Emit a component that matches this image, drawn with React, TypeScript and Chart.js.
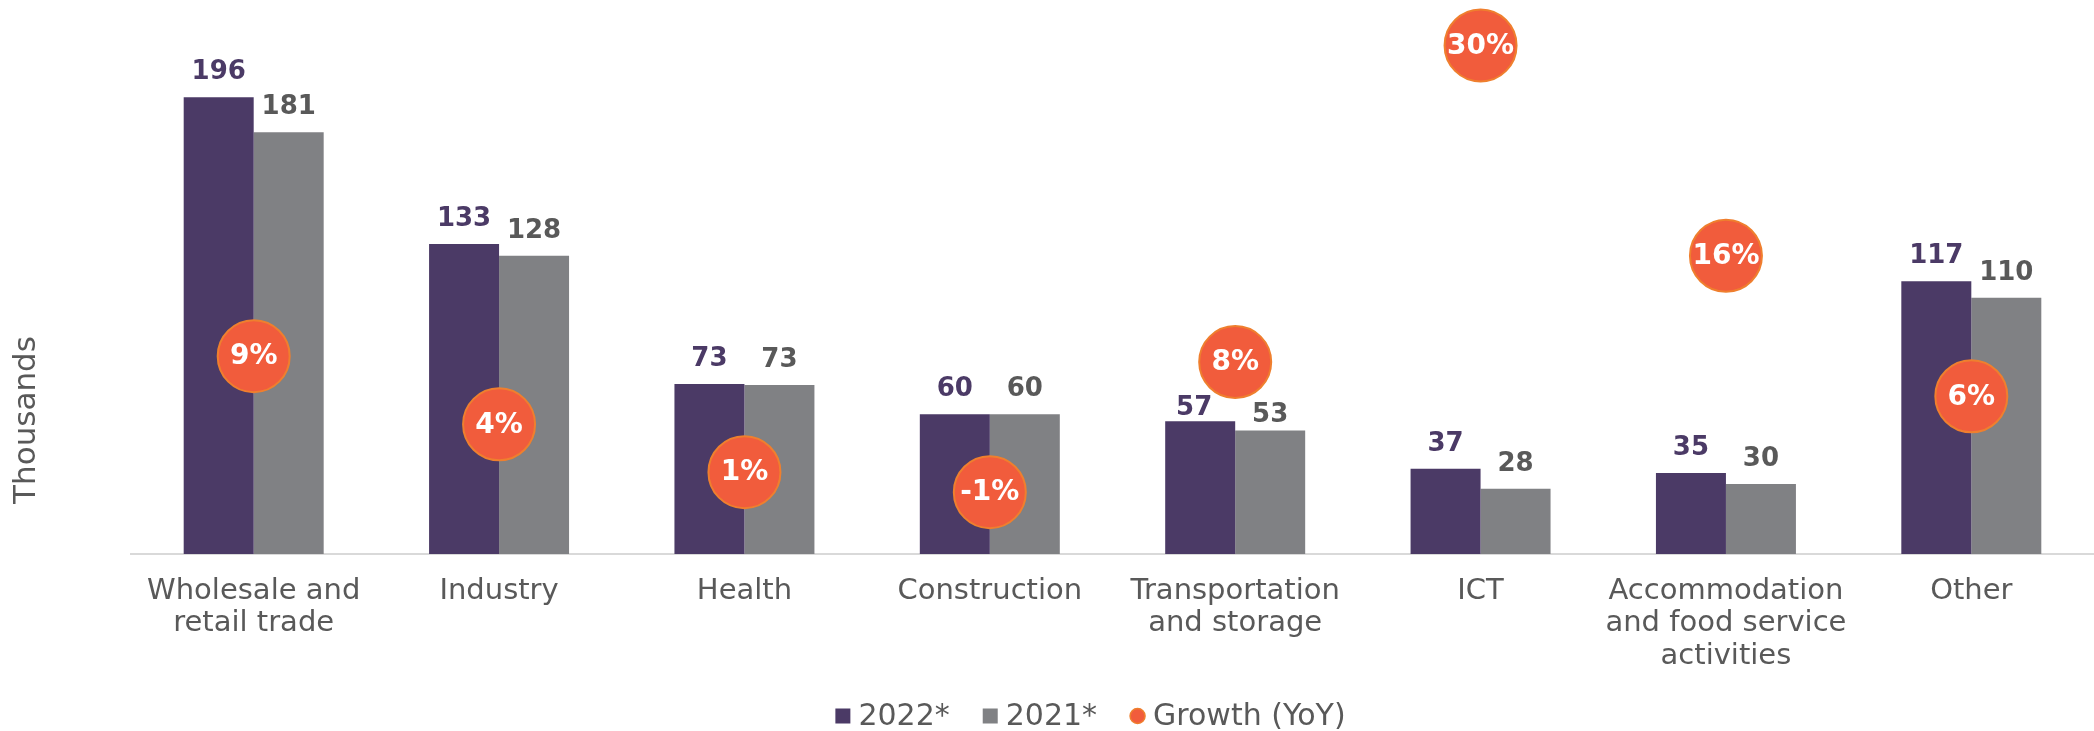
import React, { useEffect, useRef } from "react";
import { Chart, registerables } from "chart.js";

Chart.register(...registerables);

// ---- data ----
const categories: string[][] = [
  ["Wholesale and", "retail trade"],
  ["Industry"],
  ["Health"],
  ["Construction"],
  ["Transportation", "and storage"],
  ["ICT"],
  ["Accommodation", "and food service", "activities"],
  ["Other"],
];
const values2022 = [196, 133, 73.0, 60, 57, 36.6, 34.8, 117];
const values2021 = [181, 128, 72.5, 60, 53, 28, 30, 110];
const growthPct = [8.63, 3.9, 0.58, -0.81, 8.22, 30.2, 15.6, 5.85];
const seriesNames = ["2022*", "2021*", "Growth (YoY)"];

// ---- styles ----
const PURPLE = "#4B3A66";
const GRAY = "#808184";
const ORANGE = "#F15C3C";
const ORANGE_BORDER = "#EF7F2E";
const TEXT_GRAY = "#595959";
const FONT = '"DejaVu Sans", Verdana, sans-serif';

// label placement tweaks (gap above bar top, horizontal nudge)
const defaultGap = 18;
const labelTweaks: Record<string, { dx: number; gap: number }> = {
  "0-4": { dx: -6, gap: 6 },
  "1-4": { dx: 0, gap: 8 },
};

const annotatePlugin = {
  id: "annotate",
  afterDatasetsDraw(chart: any) {
    const ctx: CanvasRenderingContext2D = chart.ctx;
    ctx.save();
    // bar value labels
    [0, 1].forEach((di) => {
      const meta = chart.getDatasetMeta(di);
      const data = chart.data.datasets[di].data as number[];
      ctx.font = `bold 26px ${FONT}`;
      ctx.fillStyle = di === 0 ? PURPLE : TEXT_GRAY;
      ctx.textAlign = "center";
      ctx.textBaseline = "alphabetic";
      meta.data.forEach((bar: any, i: number) => {
        const t = labelTweaks[`${di}-${i}`] || { dx: 0, gap: defaultGap };
        ctx.fillText(String(Math.round(data[i])), bar.x + t.dx, bar.y - t.gap);
      });
    });
    // growth bubble labels
    const gm = chart.getDatasetMeta(2);
    const gd = chart.data.datasets[2].data as number[];
    ctx.font = `bold 28px ${FONT}`;
    ctx.fillStyle = "#FFFFFF";
    ctx.textAlign = "center";
    ctx.textBaseline = "middle";
    gm.data.forEach((pt: any, i: number) => {
      ctx.fillText(`${Math.round(gd[i])}%`, pt.x, pt.y + 1);
    });
    ctx.restore();
  },
  afterDraw(chart: any) {
    const ctx: CanvasRenderingContext2D = chart.ctx;
    const area = chart.chartArea;
    ctx.save();
    // y-axis title
    ctx.font = `31px ${FONT}`;
    ctx.fillStyle = TEXT_GRAY;
    ctx.textAlign = "center";
    ctx.textBaseline = "middle";
    ctx.translate(27, area.bottom - 134);
    ctx.rotate(-Math.PI / 2);
    ctx.fillText("Thousands", 0, 0);
    ctx.restore();

    // legend
    ctx.save();
    ctx.font = `30px ${FONT}`;
    ctx.textBaseline = "middle";
    ctx.textAlign = "left";
    const box = 15;
    const gapText = 8;
    const gapItem = 33;
    const widths = seriesNames.map((n) => box + gapText + ctx.measureText(n).width);
    const total = widths.reduce((a, b) => a + b, 0) + gapItem * (widths.length - 1);
    let x = (area.left + area.right) / 2 - 22 - total / 2;
    const cy = 716;
    seriesNames.forEach((name, i) => {
      if (i < 2) {
        ctx.fillStyle = i === 0 ? PURPLE : GRAY;
        ctx.fillRect(x, cy - box / 2, box, box);
      } else {
        ctx.beginPath();
        ctx.arc(x + box / 2, cy, box / 2, 0, Math.PI * 2);
        ctx.fillStyle = ORANGE;
        ctx.fill();
        ctx.lineWidth = 1.5;
        ctx.strokeStyle = ORANGE_BORDER;
        ctx.stroke();
      }
      ctx.fillStyle = TEXT_GRAY;
      ctx.fillText(name, x + box + gapText, cy + 1);
      x += widths[i] + gapItem;
    });
    ctx.restore();
  },
};

export default function App() {
  const canvasRef = useRef<HTMLCanvasElement | null>(null);

  useEffect(() => {
    if (!canvasRef.current) return;
    const chart = new Chart(canvasRef.current, {
      type: "bar",
      data: {
        labels: categories,
        datasets: [
          {
            type: "bar",
            label: seriesNames[0],
            data: values2022,
            backgroundColor: PURPLE,
            borderWidth: 0,
            order: 1,
            yAxisID: "y",
            categoryPercentage: 0.5705,
            barPercentage: 1,
          },
          {
            type: "bar",
            label: seriesNames[1],
            data: values2021,
            backgroundColor: GRAY,
            borderWidth: 0,
            order: 2,
            yAxisID: "y",
            categoryPercentage: 0.5705,
            barPercentage: 1,
          },
          {
            type: "line",
            label: seriesNames[2],
            data: growthPct,
            yAxisID: "y1",
            showLine: false,
            order: 0,
            pointRadius: 36,
            pointHoverRadius: 36,
            pointBackgroundColor: ORANGE,
            pointBorderColor: ORANGE_BORDER,
            pointBorderWidth: 2,
            backgroundColor: ORANGE,
            borderColor: ORANGE_BORDER,
            clip: false,
          } as any,
        ],
      },
      options: {
        animation: false,
        responsive: false,
        maintainAspectRatio: false,
        layout: { autoPadding: false, padding: { top: 18, left: 131, right: 0, bottom: 0 } },
        plugins: {
          legend: { display: false },
          tooltip: { enabled: false },
          title: { display: false },
        },
        scales: {
          x: {
            offset: true,
            grid: { display: false, drawTicks: false },
            border: { display: true, color: "#D9D9D9", width: 2 },
            ticks: {
              autoSkip: false,
              maxRotation: 0,
              minRotation: 0,
              padding: 21,
              color: TEXT_GRAY,
              font: { family: FONT, size: 29, lineHeight: 1.12 },
            },
            afterFit: (scale: any) => {
              scale.height = 177;
            },
          },
          y: { display: false, min: 0, max: 230 },
          y1: { display: false, min: -5.1, max: 32.1 },
        },
      },
      plugins: [annotatePlugin],
    });
    return () => chart.destroy();
  }, []);

  return (
    <div
      style={{
        position: "absolute",
        left: 0,
        top: 0,
        width: 2094,
        height: 731,
        background: "#ffffff",
      }}
    >
      <canvas ref={canvasRef} width={2094} height={731} style={{ display: "block" }} />
    </div>
  );
}
